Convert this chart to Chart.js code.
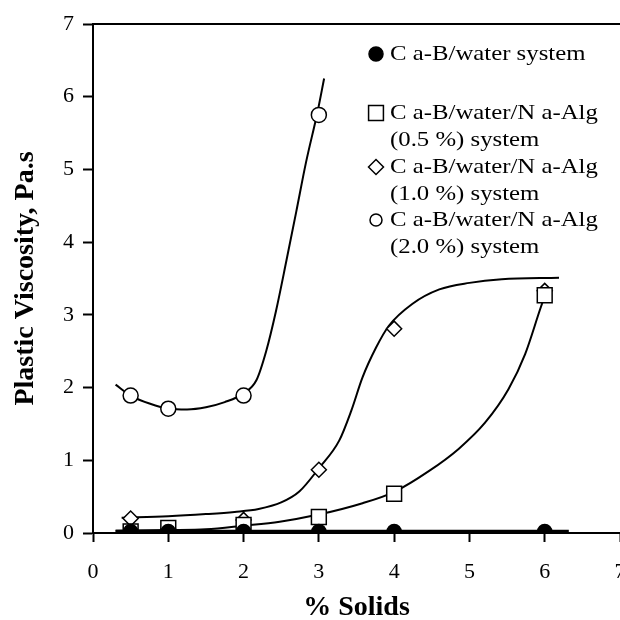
<!DOCTYPE html>
<html>
<head>
<meta charset="utf-8">
<script src="https://cdn.jsdelivr.net/npm/chart.js@4.4.1/dist/chart.umd.min.js"></script>
<style>
  html, body { margin:0; padding:0; background:#fff; }
</style>
</head>
<body>
<canvas id="grafico" width="620" height="620"></canvas>
<script>
// % de solidos medidos
var solidos   = [0.5, 1, 2, 3, 4, 6];
var solidos20 = [0.5, 1, 2, 3];

// viscosidad plastica (Pa.s) por sistema
var viscAgua = [0.02, 0.02, 0.02, 0.02, 0.02, 0.02];
var visc05   = [0.02, 0.07, 0.11, 0.22, 0.54, 3.27];
var visc10   = [0.20, 0.05, 0.18, 0.87, 2.81, 3.33];
var visc20   = [1.89, 1.71, 1.89, 5.75];

// curvas de ajuste
var ajusteAguaX = [0.3, 6.32];
var ajusteAguaY = [0.02, 0.02];
var ajuste05X = [0.3, 1.0, 1.5, 2.0, 2.48, 2.98, 3.58, 4.01, 4.46, 4.86, 5.21, 5.52, 5.74, 5.94, 6.02];
var ajuste05Y = [0.03, 0.04, 0.05, 0.10, 0.155, 0.25, 0.41, 0.57, 0.85, 1.16, 1.52, 1.98, 2.46, 3.08, 3.32];
var ajuste10X = [0.38, 1.0, 1.5, 1.88, 2.2, 2.5, 2.74, 3.0, 3.27, 3.43, 3.58, 3.76, 3.93, 4.24, 4.6, 5.0, 5.43, 6.19];
var ajuste10Y = [0.21, 0.23, 0.26, 0.29, 0.33, 0.42, 0.57, 0.89, 1.27, 1.68, 2.14, 2.55, 2.85, 3.15, 3.35, 3.44, 3.49, 3.51];
var ajuste20X = [0.3, 0.5, 0.75, 1.0, 1.25, 1.5, 1.75, 2.0, 2.17, 2.3, 2.43, 2.57, 2.7, 2.83, 2.98, 3.07];
var ajuste20Y = [2.04, 1.89, 1.78, 1.71, 1.70, 1.73, 1.80, 1.92, 2.10, 2.50, 3.05, 3.75, 4.42, 5.10, 5.78, 6.25];

var ticksX = [0, 1, 2, 3, 4, 5, 6, 7];
var ticksY = [0, 1, 2, 3, 4, 5, 6, 7];

var leyendaTxt = [
  ['C a-B/water system'],
  ['C a-B/water/N a-Alg', '(0.5 %) system'],
  ['C a-B/water/N a-Alg', '(1.0 %) system'],
  ['C a-B/water/N a-Alg', '(2.0 %) system']
];

var FUENTE = '"Liberation Serif", "Times New Roman", serif';

function puntos(xs, ys){
  var r = [];
  for (var i = 0; i < xs.length; i++) r.push({x: xs[i], y: ys[i]});
  return r;
}

function serieMarca(datos, estilo, radio, relleno){
  return {
    data: datos, showLine: false,
    pointStyle: estilo, pointRadius: radio,
    pointBackgroundColor: relleno, pointBorderColor: '#000', pointBorderWidth: 1.5
  };
}

function serieCurva(datos, ancho){
  return {
    data: datos, showLine: true, pointRadius: 0,
    borderColor: '#000', borderWidth: ancho,
    cubicInterpolationMode: 'monotone'
  };
}

// leyenda de varias lineas y linea superior del marco
var leyenda = {
  id: 'leyenda',
  afterDraw: function(chart){
    var ctx = chart.ctx, a = chart.chartArea;
    ctx.save();
    ctx.strokeStyle = '#000';
    ctx.lineWidth = 2;
    ctx.beginPath();
    ctx.moveTo(a.left, a.top);
    ctx.lineTo(a.right, a.top);
    ctx.stroke();

    var marcas = [
      {pointStyle: 'circle', radius: 7, fill: '#000'},
      {pointStyle: 'rect', radius: 10.5, fill: '#fff'},
      {pointStyle: 'rectRot', radius: 7.5, fill: '#fff'},
      {pointStyle: 'circle', radius: 6, fill: '#fff'}
    ];
    var filas = [54, 113, 167, 220];
    ctx.font = '21px ' + FUENTE;
    ctx.textBaseline = 'middle';
    for (var i = 0; i < marcas.length; i++){
      ctx.fillStyle = marcas[i].fill;
      ctx.strokeStyle = '#000';
      ctx.lineWidth = 1.5;
      Chart.helpers.drawPoint(ctx, {pointStyle: marcas[i].pointStyle, radius: marcas[i].radius, borderWidth: 1.5, rotation: 0}, 376, filas[i]);
      ctx.fillStyle = '#000';
      for (var j = 0; j < leyendaTxt[i].length; j++){
        ctx.save();
        ctx.translate(390, filas[i] + j * 27);
        ctx.scale(1.18, 1);
        ctx.fillText(leyendaTxt[i][j], 0, 0);
        ctx.restore();
      }
    }
    ctx.restore();
  }
};

new Chart(document.getElementById('grafico'), {
  type: 'scatter',
  data: {
    datasets: [
      serieMarca(puntos(solidos, viscAgua), 'circle', 7, '#000'),
      serieMarca(puntos(solidos, visc05), 'rect', 10.5, '#fff'),
      serieMarca(puntos(solidos, visc10), 'rectRot', 7.5, '#fff'),
      serieMarca(puntos(solidos20, visc20), 'circle', 7.5, '#fff'),
      serieCurva(puntos(ajusteAguaX, ajusteAguaY), 3.5),
      serieCurva(puntos(ajuste05X, ajuste05Y), 2),
      serieCurva(puntos(ajuste10X, ajuste10Y), 2),
      serieCurva(puntos(ajuste20X, ajuste20Y), 2)
    ]
  },
  options: {
    responsive: false,
    animation: false,
    devicePixelRatio: 1,
    layout: { autoPadding: false, padding: { top: 24, right: 0, bottom: 0, left: 0 } },
    plugins: { legend: { display: false }, tooltip: { enabled: false } },
    scales: {
      x: {
        type: 'linear', min: 0, max: 7,
        afterBuildTicks: function(s){ s.ticks = ticksX.map(function(v){ return {value: v}; }); },
        afterFit: function(s){ s.height = 87; s.paddingRight = 0; },
        grid: { drawOnChartArea: false, drawTicks: true, tickLength: 9, tickWidth: 2, tickColor: '#000' },
        border: { color: '#000', width: 2 },
        ticks: { color: '#000', padding: 17, maxRotation: 0, font: { family: FUENTE, size: 22 } },
        title: { display: true, text: '% Solids', color: '#000', padding: { top: 0, bottom: -5 },
                 font: { family: FUENTE, size: 28, weight: 'bold' } }
      },
      y: {
        type: 'linear', min: 0, max: 7,
        afterBuildTicks: function(s){ s.ticks = ticksY.map(function(v){ return {value: v}; }); },
        afterFit: function(s){ s.width = 93; },
        grid: { drawOnChartArea: false, drawTicks: true, tickLength: 10, tickWidth: 2, tickColor: '#000' },
        border: { color: '#000', width: 2 },
        ticks: { color: '#000', padding: 9, font: { family: FUENTE, size: 22 } },
        title: { display: true, text: 'Plastic Viscosity, Pa.s', color: '#000', padding: { top: 9 },
                 font: { family: FUENTE, size: 28, weight: 'bold' } }
      }
    }
  },
  plugins: [leyenda]
});
</script>
</body>
</html>
